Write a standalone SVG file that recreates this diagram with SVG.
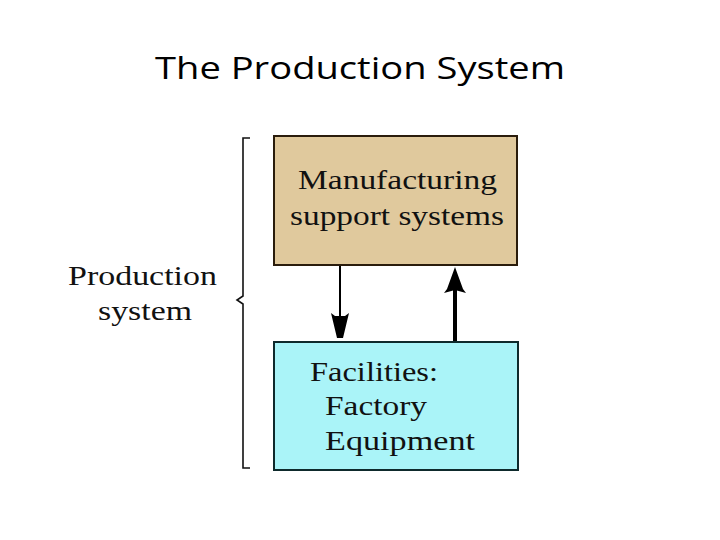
<svg xmlns="http://www.w3.org/2000/svg" width="720" height="540" viewBox="0 0 720 540">
<style>
.serif{font-family:"Liberation Serif","Times New Roman",serif;font-size:27px;fill:#111}
.title{font-family:"Open Sans","Liberation Sans",Arial,sans-serif;font-size:31px;fill:#000}
.box{stroke-width:2}
</style>
<rect width="720" height="540" fill="#ffffff"/>
<text class="title" x="155" y="79" textLength="410" lengthAdjust="spacingAndGlyphs">The Production System</text>
<g id="support">
<rect class="box" x="274" y="136" width="243" height="129" fill="#E0C99D" stroke="#2A1C0C"/>
<text class="serif" x="298" y="189" textLength="199" lengthAdjust="spacingAndGlyphs">Manufacturing</text>
<text class="serif" x="290" y="225" textLength="214" lengthAdjust="spacingAndGlyphs">support systems</text>
</g>
<g id="facilities">
<rect class="box" x="274" y="342" width="244" height="128" fill="#AAF4F8" stroke="#0E2A2C"/>
<text class="serif" x="310" y="381" textLength="128" lengthAdjust="spacingAndGlyphs">Facilities:</text>
<text class="serif" x="325" y="415" textLength="102" lengthAdjust="spacingAndGlyphs">Factory</text>
<text class="serif" x="325" y="450" textLength="150" lengthAdjust="spacingAndGlyphs">Equipment</text>
</g>
<g id="production-system">
<path d="M250,138 L243,138 L243,296 L237,300 L243,304 L243,468 L250,468" fill="none" stroke="#111" stroke-width="1.6"/>
<text class="serif" x="68" y="285" textLength="149" lengthAdjust="spacingAndGlyphs">Production</text>
<text class="serif" x="98" y="320" textLength="94" lengthAdjust="spacingAndGlyphs">system</text>
</g>
<g id="connectors">
<line x1="340" y1="266" x2="340" y2="318" stroke="#000" stroke-width="2"/>
<path d="M331,313 L335,316 L345,316 L349,313 L343,338 L337,338 Z" fill="#000"/>
<line x1="455" y1="341" x2="455" y2="288" stroke="#000" stroke-width="4"/>
<path d="M455,267 L463,289 L466,293 L455,290 L444,293 L447,289 Z" fill="#000"/>
</g>
</svg>
